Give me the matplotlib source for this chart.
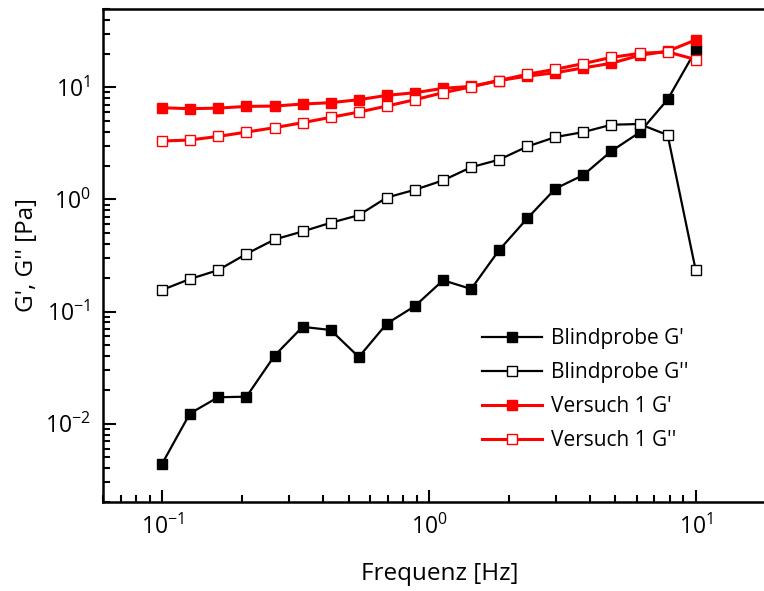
import matplotlib
matplotlib.use("Agg")
import matplotlib.pyplot as plt
from matplotlib.ticker import LogLocator, LogFormatterSciNotation, NullFormatter

# frequency sweep, 20 points from 0.1 to 10 Hz
freq = [0.1, 0.127, 0.162, 0.207, 0.264, 0.336, 0.428, 0.546, 0.695, 0.886,
        1.13, 1.44, 1.83, 2.34, 2.98, 3.79, 4.83, 6.16, 7.85, 10.0]

blind_g1 = [0.0044, 0.0123, 0.0172, 0.0174, 0.0405, 0.073, 0.0685, 0.0393, 0.078, 0.112,
            0.19, 0.159, 0.352, 0.68, 1.25, 1.65, 2.70, 3.96, 7.8, 21.4]
blind_g2 = [0.156, 0.195, 0.234, 0.327, 0.44, 0.518, 0.619, 0.724, 1.04, 1.22,
            1.48, 1.94, 2.26, 2.97, 3.60, 3.99, 4.64, 4.71, 3.75, 0.234]
versuch_g1 = [6.58, 6.45, 6.53, 6.76, 6.81, 7.10, 7.30, 7.76, 8.48, 8.96,
              9.8, 10.2, 11.5, 12.6, 13.5, 14.9, 16.4, 19.3, 21.0, 26.5]
versuch_g2 = [3.32, 3.39, 3.65, 3.99, 4.37, 4.84, 5.40, 6.02, 6.81, 7.76,
              8.96, 10.1, 11.5, 13.1, 14.5, 16.3, 18.5, 20.1, 20.7, 17.7]

labels = ["Blindprobe G'", "Blindprobe G''", "Versuch 1 G'", "Versuch 1 G''"]

plt.rcParams['font.family'] = ['Open Sans', 'DejaVu Sans']
plt.rcParams['mathtext.fontset'] = 'custom'
plt.rcParams['mathtext.rm'] = 'Open Sans'
plt.rcParams['mathtext.it'] = 'Open Sans:italic'
plt.rcParams['mathtext.bf'] = 'Open Sans:bold'

W, H = 764, 591
fig = plt.figure(figsize=(W / 100, H / 100), dpi=100)
# axes right edge lies just outside the image, so the right spine is cut off
ax = fig.add_axes([103 / W, 1 - 502 / H, 673 / W, 493 / H])

ax.plot(freq, blind_g1, '-s', color='black', lw=1.6, ms=7.5,
        mfc='black', mec='black', mew=1.0, label=labels[0])
ax.plot(freq, blind_g2, '-s', color='black', lw=1.6, ms=7.5,
        mfc='white', mec='black', mew=1.0, label=labels[1])
ax.plot(freq, versuch_g1, '-s', color='red', lw=2.2, ms=7.5,
        mfc='red', mec='red', mew=1.0, label=labels[2])
ax.plot(freq, versuch_g2, '-s', color='red', lw=2.2, ms=7.5,
        mfc='white', mec='red', mew=1.0, label=labels[3])

ax.set_xscale('log')
ax.set_yscale('log')
ax.set_xlim(0.06, 20)
ax.set_ylim(0.002, 50)

for a in (ax.xaxis, ax.yaxis):
    a.set_major_locator(LogLocator(base=10, numticks=20))
    a.set_minor_locator(LogLocator(base=10, subs=range(2, 10), numticks=20))
    a.set_major_formatter(LogFormatterSciNotation())
    a.set_minor_formatter(NullFormatter())

ax.tick_params(which='both', direction='in', top=False, right=False,
               width=1.5, labelsize=16.5, pad=9)
ax.tick_params(which='major', length=9)
ax.tick_params(which='minor', length=5)
for s in ax.spines.values():
    s.set_linewidth(1.8)

ax.set_xlabel("Frequenz [Hz]", fontsize=17.5, labelpad=16)
ax.set_ylabel("G', G'' [Pa]", fontsize=17.5, labelpad=4)

ax.legend(loc='upper left', bbox_to_anchor=(0.563, 0.352), frameon=False,
          fontsize=15, handlelength=2.9, handletextpad=0.4, labelspacing=0.62,
          borderpad=0, borderaxespad=0)

fig.savefig("out.png", dpi=100)
